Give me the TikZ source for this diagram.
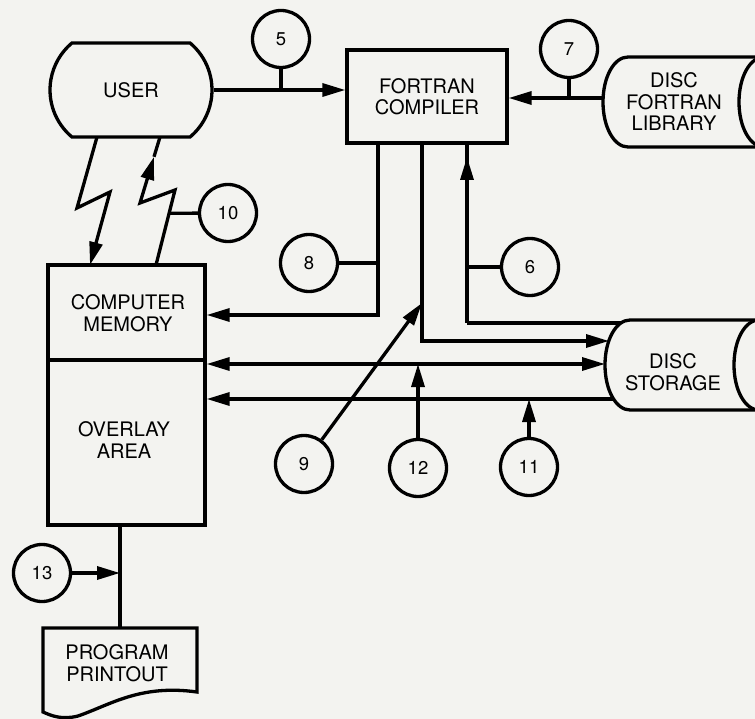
\documentclass[tikz,border=0pt]{standalone}
\usepackage{fontspec}
\setsansfont{TeX Gyre Heros}
\usetikzlibrary{calc,positioning,arrows.meta,shapes.misc}
\definecolor{paper}{RGB}{243,243,240}

\begin{document}
\begin{tikzpicture}[x=1pt,y=-1pt,
  line width=3.3pt,
  >={Triangle[length=23pt,width=13pt]},
  lbl/.style={font=\sffamily\fontsize{20}{21.5}\selectfont, align=center, inner sep=0pt},
  box/.style={draw, rectangle, lbl},
  num/.style={draw, circle, minimum size=57pt, inner sep=0pt, font=\sffamily\fontsize{18.5}{18.5}\selectfont}]
  \useasboundingbox (0,0) rectangle (755,719);
  \fill[paper] (0,0) rectangle (755,719);
  \clip (0,0) rectangle (755,719);

  % Blocks
  \node[draw, rounded rectangle, rounded rectangle arc length=100, minimum width=162pt, minimum height=94pt, lbl] (user) at (131,90) {USER};
  \node[box, minimum width=160pt, minimum height=93pt] (comp) at (427,96.5) {FORTRAN\\COMPILER};
  \node[box, minimum width=157pt, minimum height=260pt] (mem) at (126.5,395) {};
  \node[lbl] (memtxt) at (128,313) {COMPUTER\\MEMORY};
  \node[lbl] (ovl) at (124,440) {OVERLAY\\AREA};
  \node[lbl] (lib) at (674,102) {DISC\\FORTRAN\\LIBRARY};
  \node[lbl] (stor) at (673,372) {DISC\\STORAGE};
  \node[lbl] (prn) at (117,663) {PROGRAM\\PRINTOUT};
  \draw (mem.west |- 0,360) -- (mem.east |- 0,360);

  % Disc outlines
  \draw (790,57) -- (628,57) .. controls (614,57) and (603,77) .. (603,102)
    .. controls (603,127) and (614,147) .. (628,147) -- (790,147);
  \draw (764,57) .. controls (750,57) and (739,77) .. (739,102)
    .. controls (739,127) and (750,147) .. (764,147);
  \draw (790,320) -- (630,320) .. controls (616,320) and (605,340) .. (605,365)
    .. controls (605,390) and (616,410) .. (630,410) -- (790,410);
  \draw (759,320) .. controls (745,320) and (734,340) .. (734,365)
    .. controls (734,390) and (745,410) .. (759,410);

  % Printout
  \coordinate (prtop) at (120,628);
  \draw (43,628) -- (197,628) -- (197,692) .. controls (140,684) and (110,705) .. (78,716)
    .. controls (62,720) and (52,716) .. (43,712) -- cycle;

  % Numbered points
  \node[num] (n5) at (281,39) {5};
  \node[num] (n7) at (569,49) {7};
  \node[num] (n10) at (228,213) {10};
  \node[num] (n8) at (309,263) {8};
  \node[num] (n6) at (530,267) {6};
  \node[num] (n9) at (304,464) {9};
  \node[num] (n12) at (418,468) {12};
  \node[num] (n11) at (529,467) {11};
  \node[num] (n13) at (42,573) {13};

  % Junctions
  \coordinate (libin) at (603,98);
  \coordinate (j1) at (378,315);
  \coordinate (j2) at (422,341);
  \coordinate (j3) at (467,323);
  \coordinate (k9) at (422,303);
  \coordinate (sa) at (609,341);
  \coordinate (sb) at (621,323);
  \coordinate (sc) at (605,364);
  \coordinate (sd) at (613,399);

  % Compiler links
  \draw[->] (user.east) -- (user.east -| comp.west);
  \draw (n5) -- (n5 |- user.east);
  \draw[->] (libin) -- (libin -| comp.east);
  \draw (n7) -- (n7 |- libin);
  \draw[->] (j1 |- comp.south) -- (j1) -- (j1 -| mem.east);
  \draw (n8) -- (n8 -| j1);
  \draw[->] (j2 |- comp.south) -- (j2) -- (sa);
  \draw[->] (n9) -- (k9);
  \draw[->] (j3) -- ++(0,-166);
  \draw (j3) -- (j3 |- comp.south);
  \draw (j3) -- (sb);
  \draw (n6) -- (n6 -| j3);

  % Memory / storage links
  \draw[<->] (sc -| mem.east) -- (sc);
  \draw[->] (n12) -- (n12 |- sc);
  \draw[->] (sd) -- (sd -| mem.east);
  \draw[->] (n11) -- (n11 |- sd);
  \draw (mem.south -| prtop) -- (prtop);
  \draw[->] (n13) -- (n13 -| prtop);

  % Terminal links
  \coordinate (b1) at (97,137);
  \coordinate (b2) at (77,208);
  \coordinate (b3) at (110,192);
  \coordinate (b4) at (90,265);
  \draw[->] (b1) -- (b2) -- (b3) -- (b4);
  \coordinate (r1) at (156,265);
  \coordinate (r2) at (175,190);
  \coordinate (r3) at (140,203);
  \coordinate (r4) at (160,137);
  \draw[->] (r1) -- (r2) -- (r3) -- ($(r3)!0.7!(r4)$);
  \draw ($(r3)!0.7!(r4)$) -- (r4);
  \draw (n10) -- ($(r1)!0.69!(r2)$);
\end{tikzpicture}
\end{document}
